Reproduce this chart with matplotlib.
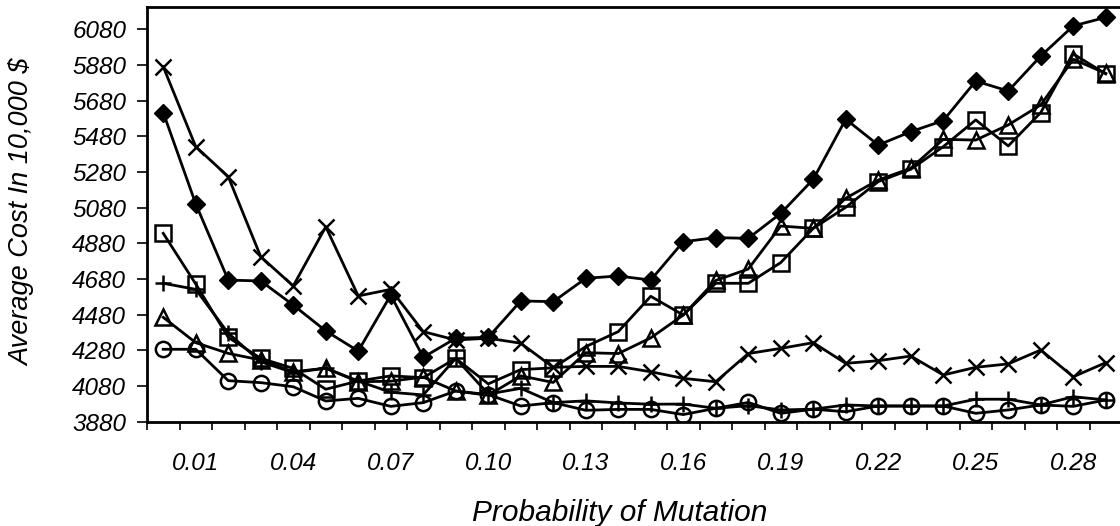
import matplotlib
matplotlib.use('Agg')
import matplotlib.pyplot as plt
from matplotlib import rcParams

rcParams['font.family'] = 'sans-serif'
rcParams['font.sans-serif'] = ['Liberation Sans', 'DejaVu Sans']
rcParams['font.style'] = 'italic'

# probability of mutation (categories)
mutation = ['0.00', '0.01', '0.02', '0.03', '0.04', '0.05', '0.06', '0.07', '0.08', '0.09',
            '0.10', '0.11', '0.12', '0.13', '0.14', '0.15', '0.16', '0.17', '0.18', '0.19',
            '0.20', '0.21', '0.22', '0.23', '0.24', '0.25', '0.26', '0.27', '0.28', '0.29']
shown_labels = ['0.01', '0.04', '0.07', '0.10', '0.13', '0.16', '0.19', '0.22', '0.25', '0.28']

# average cost (in 10,000 $), one list per curve
cost_diamond = [5613, 5101, 4674, 4669, 4534, 4389, 4276, 4590, 4241, 4348,
                4353, 4557, 4553, 4684, 4697, 4674, 4889, 4912, 4908, 5048,
                5239, 5576, 5431, 5506, 5568, 5790, 5734, 5930, 6099, 6147]
cost_cross = [5870, 5422, 5254, 4805, 4641, 4973, 4585, 4622, 4385, 4338,
              4348, 4320, 4185, 4190, 4190, 4160, 4123, 4104, 4262, 4291,
              4323, 4207, 4222, 4248, 4142, 4185, 4204, 4282, 4132, 4211]
cost_square = [4936, 4652, 4353, 4235, 4179, 4062, 4108, 4137, 4127, 4235,
               4092, 4172, 4182, 4301, 4385, 4583, 4478, 4656, 4656, 4772,
               4964, 5082, 5226, 5295, 5422, 5572, 5426, 5613, 5942, 5830]
cost_triangle = [4465, 4323, 4263, 4226, 4160, 4180, 4104, 4107, 4130, 4052,
                 4028, 4137, 4100, 4267, 4262, 4350, 4478, 4672, 4736, 4977,
                 4964, 5133, 5235, 5301, 5463, 5459, 5544, 5656, 5912, 5833]
cost_plus = [4656, 4622, 4376, 4216, 4155, 4180, 4108, 4045, 4030, 4235,
             4035, 4067, 3987, 3997, 3985, 3978, 3979, 3955, 3970, 3946,
             3950, 3974, 3968, 3968, 3968, 4006, 4006, 3974, 4020, 4002]
cost_circle = [4286, 4286, 4110, 4099, 4076, 3996, 4011, 3966, 3987, 4052,
               4032, 3968, 3987, 3944, 3949, 3949, 3920, 3955, 3988, 3927,
               3950, 3936, 3968, 3968, 3968, 3927, 3946, 3974, 3966, 4002]

y_ticks = [3880, 4080, 4280, 4480, 4680, 4880, 5080, 5280, 5480, 5680, 5880, 6080]

W, H = 1120, 526
fig = plt.figure(figsize=(W / 100, H / 100), dpi=100)
ax = fig.add_axes([147 / W, (H - 421.7) / H, 975 / W, 414.7 / H])

xs = list(range(len(mutation)))
line_kw = dict(color='black', linewidth=2, markersize=11, markeredgewidth=1.8)
ax.plot(xs, cost_diamond, marker='D', markerfacecolor='black', markersize=9,
        color='black', linewidth=2)
ax.plot(xs, cost_cross, marker='x', **line_kw)
ax.plot(xs, cost_square, marker='s', markerfacecolor='none', **line_kw)
ax.plot(xs, cost_triangle, marker='^', markerfacecolor='none', **line_kw)
ax.plot(xs, cost_plus, marker='+', **line_kw)
ax.plot(xs, cost_circle, marker='o', markerfacecolor='none', **line_kw)

ax.set_xlim(-0.5, len(mutation) - 0.5)
ax.set_ylim(3880, 6205)

# category boundaries carry the tick marks, labels sit on every third category
ax.set_xticks([i - 0.5 for i in range(len(mutation) + 1)])
ax.set_xticklabels([])
label_pos = [mutation.index(s) for s in shown_labels]
ax.set_xticks(label_pos, minor=True)
ax.set_xticklabels(shown_labels, minor=True)
ax.tick_params(axis='x', which='major', direction='out', length=6, width=1.2)
ax.tick_params(axis='x', which='minor', length=0, pad=22, labelsize=17.5)

ax.set_yticks(y_ticks)
ax.tick_params(axis='y', direction='out', length=7, width=1.2, pad=8, labelsize=17.5)

for side in ['left', 'bottom', 'top', 'right']:
    ax.spines[side].set_linewidth(2)

fig.text(620 / W, 1 - 513 / H, 'Probability of Mutation', ha='center', va='center',
         fontsize=21.5, style='italic')
fig.text(22 / W, 1 - 212 / H, 'Average Cost In 10,000 $', ha='center', va='center',
         rotation=90, fontsize=19.5, style='italic')

fig.savefig('out.png', dpi=100)
